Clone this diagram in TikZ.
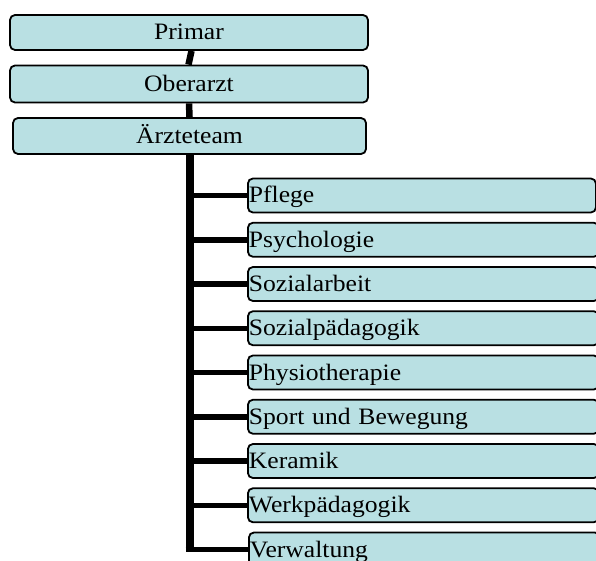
\documentclass[tikz,border=0pt]{standalone}
\usepackage{fontspec}
\setmainfont{Liberation Serif}[FakeStretch=1.09]

\begin{document}
\begin{tikzpicture}[x=1pt,y=-1pt,
    orgbox/.style={shape=rectangle,draw,line width=1.8pt,rounded corners=5pt,fill=org_bgbox,inner sep=0pt,font=\fontsize{23.5}{27}\selectfont,text height=17pt,text depth=2pt},
    headbox/.style={orgbox,minimum width=358pt,minimum height=35pt},
    staffbox/.style={orgbox,anchor=west,minimum height=34pt,text width=349pt,align=left,inner xsep=1pt},
    orgline/.style={line width=5.5pt}]
    \definecolor{org_bgbox}{RGB}{185,224,227}
    \useasboundingbox (0,0) rectangle (596,561);
    \clip (0,0) rectangle (596,561);

    \node[headbox] (primar) at (189,32.5) {Primar};
    \node[headbox,minimum height=37pt] (oberarzt) at (189,84) {Oberarzt};
    \node[headbox,minimum width=353pt,minimum height=36pt] (team) at (189.5,136) {Ärzteteam};

    \node[staffbox,text width=346pt] (pflege) at (247,195.5) {Pflege};
    \node[staffbox] (psychologie) at (247,239.75) {Psychologie};
    \node[staffbox] (sozialarbeit) at (247,284) {Sozialarbeit};
    \node[staffbox] (sozialpaed) at (247,328.25) {Sozialpädagogik};
    \node[staffbox] (physio) at (247,372.5) {Physiotherapie};
    \node[staffbox] (sport) at (247,416.75) {Sport und Bewegung};
    \node[staffbox] (keramik) at (247,461) {Keramik};
    \node[staffbox] (werkpaed) at (247,505.25) {Werkpädagogik};
    \node[staffbox] (verwaltung) at (248,549.5) {Verwaltung};

    \draw[orgline,line width=6.5pt] ([xshift=2.5pt]primar.south) to ([xshift=-0.5pt]oberarzt.north);
    \draw[orgline,line width=6.5pt] (oberarzt.south) to (team.north);
    \draw[orgline,line width=8pt] (team.south) to ([yshift=2.75pt]team.south |- verwaltung.west);

    \draw[orgline] (team.south |- pflege.west) to (pflege.west);
    \draw[orgline] (team.south |- psychologie.west) to (psychologie.west);
    \draw[orgline] (team.south |- sozialarbeit.west) to (sozialarbeit.west);
    \draw[orgline] (team.south |- sozialpaed.west) to (sozialpaed.west);
    \draw[orgline] (team.south |- physio.west) to (physio.west);
    \draw[orgline] (team.south |- sport.west) to (sport.west);
    \draw[orgline] (team.south |- keramik.west) to (keramik.west);
    \draw[orgline] (team.south |- werkpaed.west) to (werkpaed.west);
    \draw[orgline] ([xshift=-4pt]team.south |- verwaltung.west) to (verwaltung.west);

\end{tikzpicture}
\end{document}
